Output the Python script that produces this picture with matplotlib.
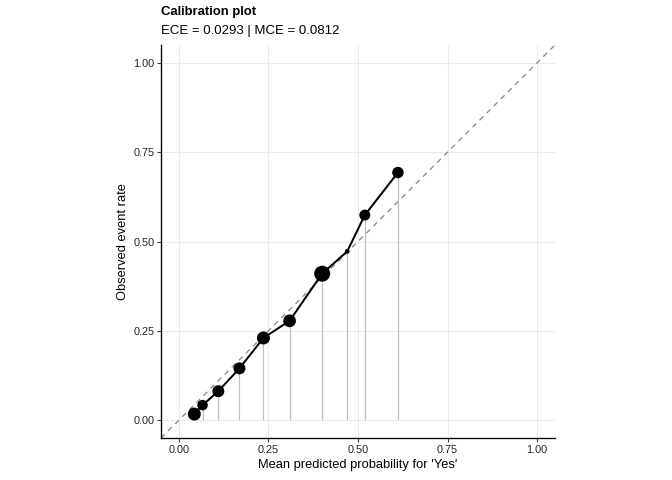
import matplotlib
matplotlib.use("Agg")
import matplotlib.pyplot as plt
import numpy as np

plt.rcParams['font.family'] = ['Liberation Sans', 'DejaVu Sans']

# Data
mean_pred = [0.043, 0.066, 0.110, 0.169, 0.236, 0.309, 0.400, 0.470, 0.519, 0.6115]
obs_rate = [0.017, 0.042, 0.081, 0.145, 0.230, 0.278, 0.410, 0.4725, 0.574, 0.693]
bin_n = [169, 110, 144, 144, 169, 161, 256, 22, 120, 132]
ticks = [0.0, 0.25, 0.5, 0.75, 1.0]
tick_labels = ["0.00", "0.25", "0.50", "0.75", "1.00"]

W, H = 672, 480
fig = plt.figure(figsize=(7, 5), dpi=96)
ax = fig.add_axes([161 / W, (H - 438) / H, 394 / W, 393 / H])

ax.set_xlim(-0.05, 1.05)
ax.set_ylim(-0.05, 1.05)

# grid
for t in ticks:
    ax.axhline(t, color='#EBEBEB', lw=0.8, zorder=0)
    ax.axvline(t, color='#EBEBEB', lw=0.8, zorder=0)

# diagonal
ax.plot([-0.05, 1.05], [-0.05, 1.05], color='#8C8C8C', lw=1.0,
        dashes=(4, 3.5), zorder=1)

# vertical segments
ax.vlines(mean_pred, 0, obs_rate, color='#BEBEBE', lw=0.9, zorder=2)

# line
ax.plot(mean_pred, obs_rate, color='black', lw=1.5, zorder=3)

# points: diameter in px ~ sqrt(n); s in pt^2
diam_px = np.sqrt(np.array(bin_n, dtype=float))
s = (diam_px * 72 / 96) ** 2
ax.scatter(mean_pred, obs_rate, s=s, color='black', zorder=4, linewidths=0)

ax.set_xticks(ticks)
ax.set_xticklabels(tick_labels)
ax.set_yticks(ticks)
ax.set_yticklabels(tick_labels)
ax.tick_params(axis='both', length=3.0, width=0.8, color='#333333',
               labelsize=8.2, labelcolor='#222222', pad=2)

for side in ['top', 'right']:
    ax.spines[side].set_visible(False)
for side in ['left', 'bottom']:
    ax.spines[side].set_linewidth(1.0)
    ax.spines[side].set_color('black')

ax.set_xlabel("Mean predicted probability for 'Yes'", fontsize=9.7, labelpad=3)
ax.set_ylabel("Observed event rate", fontsize=9.7, labelpad=3)

fig.text(161 / W, 1 - 12 / H, "Calibration plot", fontsize=9.8,
         fontweight='bold', ha='left', va='center')
fig.text(161 / W, 1 - 31 / H, "ECE = 0.0293 | MCE = 0.0812", fontsize=9.9,
         ha='left', va='center')

fig.savefig("out.png", dpi=96)
